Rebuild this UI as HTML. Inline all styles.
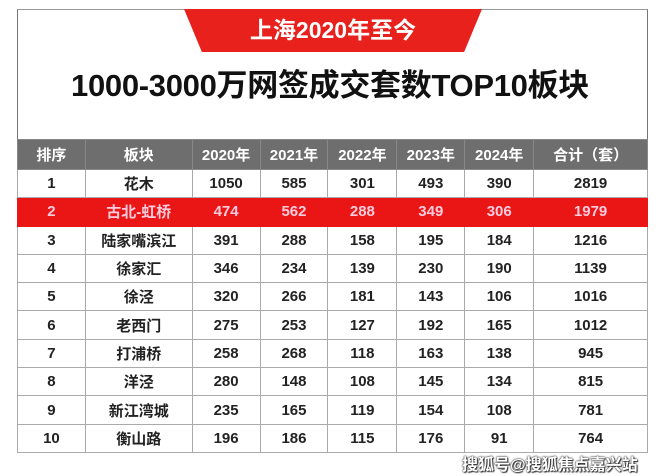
<!DOCTYPE html>
<html><head><meta charset="utf-8"><style>
body{margin:0;width:660px;height:476px;background:#fff;overflow:hidden;position:relative;font-family:"Liberation Sans","Noto Sans CJK SC",sans-serif}
.frame{position:absolute;left:17px;top:9px;width:629px;height:442px;border:1.5px solid #777;border-top:1px solid #999}
.banner{position:absolute;left:184px;top:9px;width:298px;height:43px;background:#e8211c;clip-path:polygon(0 0,100% 0,94% 100%,6% 100%);border-radius:0 0 14px 14px;color:#fff;font-weight:bold;font-size:23px;text-align:center;line-height:42px}
.title{position:absolute;left:0;width:660px;top:60px;text-align:center;font-size:31px;font-weight:bold;color:#111;letter-spacing:-0.3px}
table{position:absolute;left:17px;top:139px;border-collapse:collapse;width:631px;font-size:15px;font-weight:bold;color:#222}
td{border:1px solid #aaa;text-align:center;height:27.3px;padding:0}
tr.h td{background:#6e6e6e;color:#fff;height:29px;font-size:15px;border-color:#888}
tr.r td{background:#ea1515;color:#fcd;border-color:#ea1515}
.wm{position:absolute;left:462px;top:451px;font-size:16px;font-weight:bold;color:#fff;text-shadow:0 0 2px #333,0 0 1px #000,1px 1px 1px #333}
</style></head><body>
<div class="frame"></div>
<div class="banner">上海2020年至今</div>
<div class="title">1000-3000万网签成交套数TOP10板块</div>
<table>
<colgroup><col style="width:68px"><col style="width:107px"><col style="width:68px"><col style="width:68px"><col style="width:69px"><col style="width:68px"><col style="width:69px"><col style="width:114px"></colgroup>
<tr class="h"><td>排序</td><td>板块</td><td>2020年</td><td>2021年</td><td>2022年</td><td>2023年</td><td>2024年</td><td>合计（套）</td></tr>
<tr><td>1</td><td>花木</td><td>1050</td><td>585</td><td>301</td><td>493</td><td>390</td><td>2819</td></tr>
<tr class="r"><td>2</td><td>古北-虹桥</td><td>474</td><td>562</td><td>288</td><td>349</td><td>306</td><td>1979</td></tr>
<tr><td>3</td><td>陆家嘴滨江</td><td>391</td><td>288</td><td>158</td><td>195</td><td>184</td><td>1216</td></tr>
<tr><td>4</td><td>徐家汇</td><td>346</td><td>234</td><td>139</td><td>230</td><td>190</td><td>1139</td></tr>
<tr><td>5</td><td>徐泾</td><td>320</td><td>266</td><td>181</td><td>143</td><td>106</td><td>1016</td></tr>
<tr><td>6</td><td>老西门</td><td>275</td><td>253</td><td>127</td><td>192</td><td>165</td><td>1012</td></tr>
<tr><td>7</td><td>打浦桥</td><td>258</td><td>268</td><td>118</td><td>163</td><td>138</td><td>945</td></tr>
<tr><td>8</td><td>洋泾</td><td>280</td><td>148</td><td>108</td><td>145</td><td>134</td><td>815</td></tr>
<tr><td>9</td><td>新江湾城</td><td>235</td><td>165</td><td>119</td><td>154</td><td>108</td><td>781</td></tr>
<tr><td>10</td><td>衡山路</td><td>196</td><td>186</td><td>115</td><td>176</td><td>91</td><td>764</td></tr>
</table>
<div class="wm">搜狐号@搜狐焦点嘉兴站</div>
</body></html>
